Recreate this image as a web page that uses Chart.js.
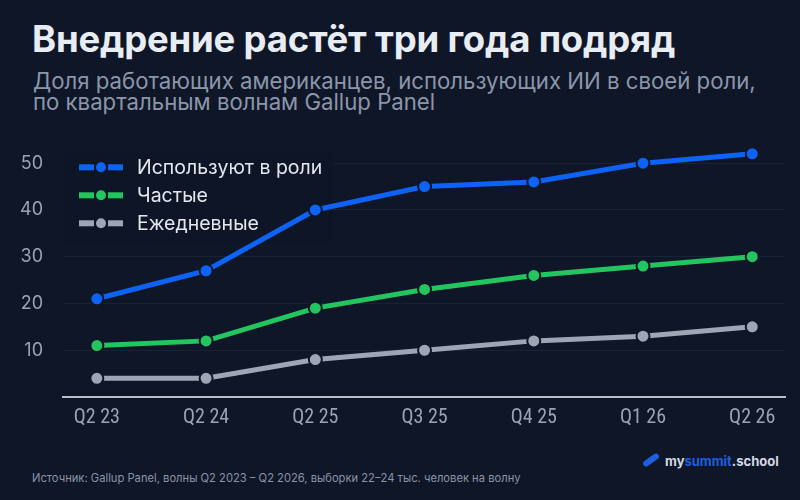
<!DOCTYPE html>
<html lang="ru">
<head>
    <meta charset="UTF-8">
    <title>Внедрение растёт три года подряд</title>
    <script src="https://cdn.jsdelivr.net/npm/chart.js"></script>
    <style>
        html, body { margin: 0; padding: 0; }
        body {
            width: 800px; height: 500px; overflow: hidden; position: relative;
            background: #0f1628; font-family: Inter, "Noto Sans", sans-serif;
        }
        h1 {
            position: absolute; left: 32px; top: 17px; margin: 0;
            font-size: 36.5px; font-weight: 700; color: #e8ecf3; letter-spacing: -0.2px;
        }
        .sub {
            position: absolute; left: 33px; top: 70px; margin: 0;
            font-size: 22.2px; line-height: 21px; color: #8b96a9;
        }
        #wrap { position: absolute; left: 0; top: 109px; width: 800px; height: 331px; }
        .src {
            position: absolute; left: 32px; top: 471px;
            font-family: Inter, sans-serif;
            font-size: 11.2px; color: #8a94a7;
        }
        .logo {
            position: absolute; left: 642px; top: 453px;
            font-family: Inter, sans-serif; font-weight: 700; font-size: 13px; color: #d4d9e2;
        }
        .logo b { color: #1d5fe0; font-weight: 700; }
        .logo i {
            display: inline-block; width: 18px; height: 6px; background: #1d5fe0;
            border-radius: 3px; transform: rotate(-35deg); margin-right: 5px; vertical-align: 3px;
        }
    </style>
</head>
<body>

    <h1>Внедрение растёт три года подряд</h1>
    <p class="sub">Доля работающих американцев, использующих ИИ в своей роли,<br>по квартальным волнам Gallup Panel</p>

    <div id="wrap"><canvas id="chart"></canvas></div>

    <div class="src">Источник: Gallup Panel, волны Q2 2023 – Q2 2026, выборки 22–24 тыс. человек на волну</div>
    <div class="logo"><i></i>my<b>summit</b>.school</div>

    <script>
        // данные
        const quarters = ['Q2 23', 'Q2 24', 'Q2 25', 'Q3 25', 'Q4 25', 'Q1 26', 'Q2 26'];
        const usesInRole = [21, 27, 40, 45, 46, 50, 52];
        const frequent = [11, 12, 19, 23, 26, 28, 30];
        const daily = [4, 4, 8, 10, 12, 13, 15];
        const yTicks = [10, 20, 30, 40, 50];

        const BG = '#0f1628';
        const TICK = '#9aa3b4';

        function series(label, values, color) {
            return {
                label: label,
                data: values.map((v, i) => ({ x: i, y: v })),
                borderColor: color,
                backgroundColor: color,
                borderWidth: 5,
                pointRadius: 6.5,
                pointHoverRadius: 6.5,
                pointBorderColor: BG,
                pointBorderWidth: 2,
                tension: 0
            };
        }

        // легенда внутри области графика
        const innerLegend = {
            id: 'innerLegend',
            beforeDatasetsDraw(chart) {
                const ctx = chart.ctx;
                const area = chart.chartArea;
                ctx.save();
                ctx.fillStyle = '#0e1526';
                ctx.fillRect(area.left, area.top + 12, 270, 90);
                ctx.restore();
            },
            afterDatasetsDraw(chart) {
                const ctx = chart.ctx;
                const area = chart.chartArea;
                const x0 = area.left + 16, y0 = area.top + 27.5, step = 28;
                ctx.save();
                chart.data.datasets.forEach((ds, i) => {
                    const y = y0 + i * step;
                    ctx.fillStyle = ds.borderColor;
                    ctx.fillRect(x0, y - 3, 15, 6);
                    ctx.fillRect(x0 + 29, y - 3, 15, 6);
                    ctx.beginPath();
                    ctx.arc(x0 + 22, y, 5, 0, Math.PI * 2);
                    ctx.fill();
                    ctx.fillStyle = '#e3e7ee';
                    ctx.font = '19.5px Inter, sans-serif';
                    ctx.textBaseline = 'middle';
                    ctx.fillText(ds.label, x0 + 58, y + 1);
                });
                ctx.restore();
            }
        };

        new Chart(document.getElementById('chart'), {
            type: 'line',
            data: {
                datasets: [
                    series('Используют в роли', usesInRole, '#0d63f5'),
                    series('Частые', frequent, '#22c55e'),
                    series('Ежедневные', daily, '#9ea6b5')
                ]
            },
            options: {
                responsive: true,
                maintainAspectRatio: false,
                animation: false,
                layout: { padding: { top: 7, right: 15, left: 0, bottom: 0 } },
                plugins: {
                    legend: { display: false },
                    tooltip: { enabled: false }
                },
                scales: {
                    x: {
                        type: 'linear',
                        min: -0.31,
                        max: 6.3,
                        afterBuildTicks(scale) {
                            scale.ticks = quarters.map((q, i) => ({ value: i }));
                        },
                        afterFit(scale) { scale.height = 43; },
                        grid: { display: false },
                        border: { display: true, color: '#b9c0cc', width: 2 },
                        ticks: {
                            color: TICK,
                            padding: 1,
                            maxRotation: 0,
                            font: { family: '"Roboto Condensed", Roboto, sans-serif', size: 20 },
                            callback: (v) => quarters[v]
                        }
                    },
                    y: {
                        min: 0,
                        max: 55,
                        afterBuildTicks(scale) {
                            scale.ticks = yTicks.map(v => ({ value: v }));
                        },
                        afterFit(scale) { scale.width = 63; },
                        grid: { color: '#1a2336', lineWidth: 1, drawTicks: false },
                        border: { display: false },
                        ticks: {
                            color: TICK,
                            padding: 20,
                            font: { family: 'Inter, sans-serif', size: 18 }
                        }
                    }
                }
            },
            plugins: [innerLegend]
        });
    </script>

</body>
</html>
